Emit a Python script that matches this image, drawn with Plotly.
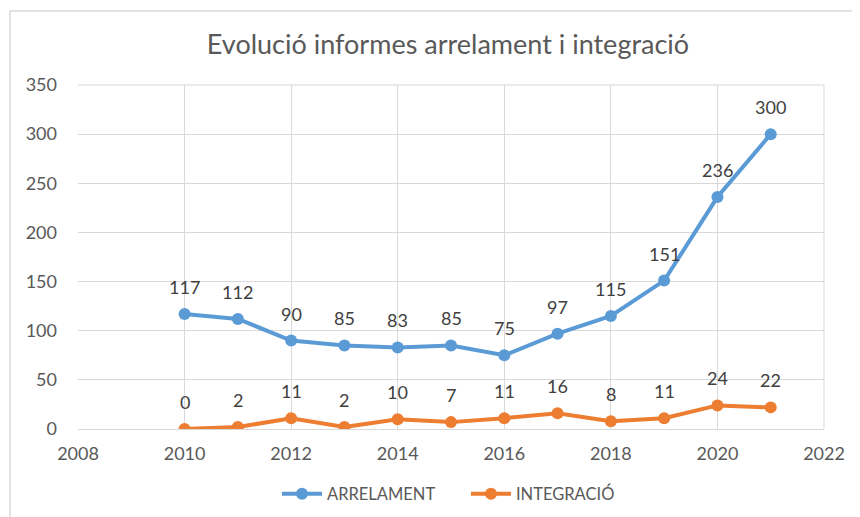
import plotly.graph_objects as go

years = [2010, 2011, 2012, 2013, 2014, 2015, 2016, 2017, 2018, 2019, 2020, 2021]
arrelament = [117, 112, 90, 85, 83, 85, 75, 97, 115, 151, 236, 300]
integracio = [0, 2, 11, 2, 10, 7, 11, 16, 8, 11, 24, 22]
series_names = ["ARRELAMENT", "INTEGRACIÓ"]
title_text = "Evolució informes arrelament i integració"

BLUE = "#5B9BD5"
ORANGE = "#ED7D31"
FONT = "Lato, 'Open Sans', sans-serif"
GRAY = "#595959"

# page has an 8px body margin; figure sized to fill the rest of the window
W, H = 852, 509
L, R, T, B = 70, 36, 77, 88
PW, PH = W - L - R, H - T - B

fig = go.Figure()
for name, vals, col in [(series_names[0], arrelament, BLUE), (series_names[1], integracio, ORANGE)]:
    fig.add_trace(go.Scatter(
        x=years, y=vals, name=name, mode="lines+markers",
        line=dict(color=col, width=4),
        marker=dict(color=col, size=12),
    ))

annotations = []
for vals in (arrelament, integracio):
    for x, v in zip(years, vals):
        annotations.append(dict(
            x=x, y=v, xref="x", yref="y", text=str(v), showarrow=False,
            yshift=27, font=dict(family=FONT, size=18, color="#404040"),
        ))

def px(xp):
    return (xp - L) / PW

def py(yp):
    return (T + PH - yp) / PH

fig.update_layout(
    width=W, height=H,
    margin=dict(l=L, r=R, t=T, b=B, autoexpand=False),
    paper_bgcolor="white", plot_bgcolor="white",
    title=dict(text=title_text, x=440 / W, xref="container", xanchor="center",
               y=1 - 37 / H, yanchor="middle",
               font=dict(family=FONT, size=27, color=GRAY)),
    xaxis=dict(range=[2008, 2022], dtick=2, tick0=2008, showgrid=True,
               gridcolor="#d9d9d9", gridwidth=1, zeroline=False,
               showline=False, ticks="", ticklabelstandoff=12,
               tickfont=dict(family=FONT, size=18, color=GRAY)),
    yaxis=dict(range=[0, 350], dtick=50, showgrid=True,
               gridcolor="#d9d9d9", gridwidth=1, zeroline=True,
               zerolinecolor="#d9d9d9", zerolinewidth=1,
               showline=False, ticks="", ticklabelstandoff=20,
               tickfont=dict(family=FONT, size=18, color=GRAY)),
    legend=dict(orientation="h", x=px(466 - 8), xanchor="center", y=py(494 - 8), yanchor="middle",
                font=dict(family=FONT, size=16.5, color=GRAY), itemwidth=40,
                entrywidth=134, entrywidthmode="pixels"),
    annotations=annotations,
    shapes=[
        dict(type="rect", xref="paper", yref="paper",
             x0=px(2), x1=px(W + 20), y0=py(H + 20), y1=py(3),
             line=dict(color="#d9d9d9", width=1.5), fillcolor="rgba(0,0,0,0)",
             layer="below"),
        dict(type="line", xref="paper", yref="paper", x0=1, x1=1, y0=0, y1=1,
             line=dict(color="#d9d9d9", width=1), layer="below"),
        dict(type="line", xref="paper", yref="paper", x0=0, x1=1, y0=1, y1=1,
             line=dict(color="#d9d9d9", width=1), layer="below"),
    ],
)

fig.write_html("out.html")
